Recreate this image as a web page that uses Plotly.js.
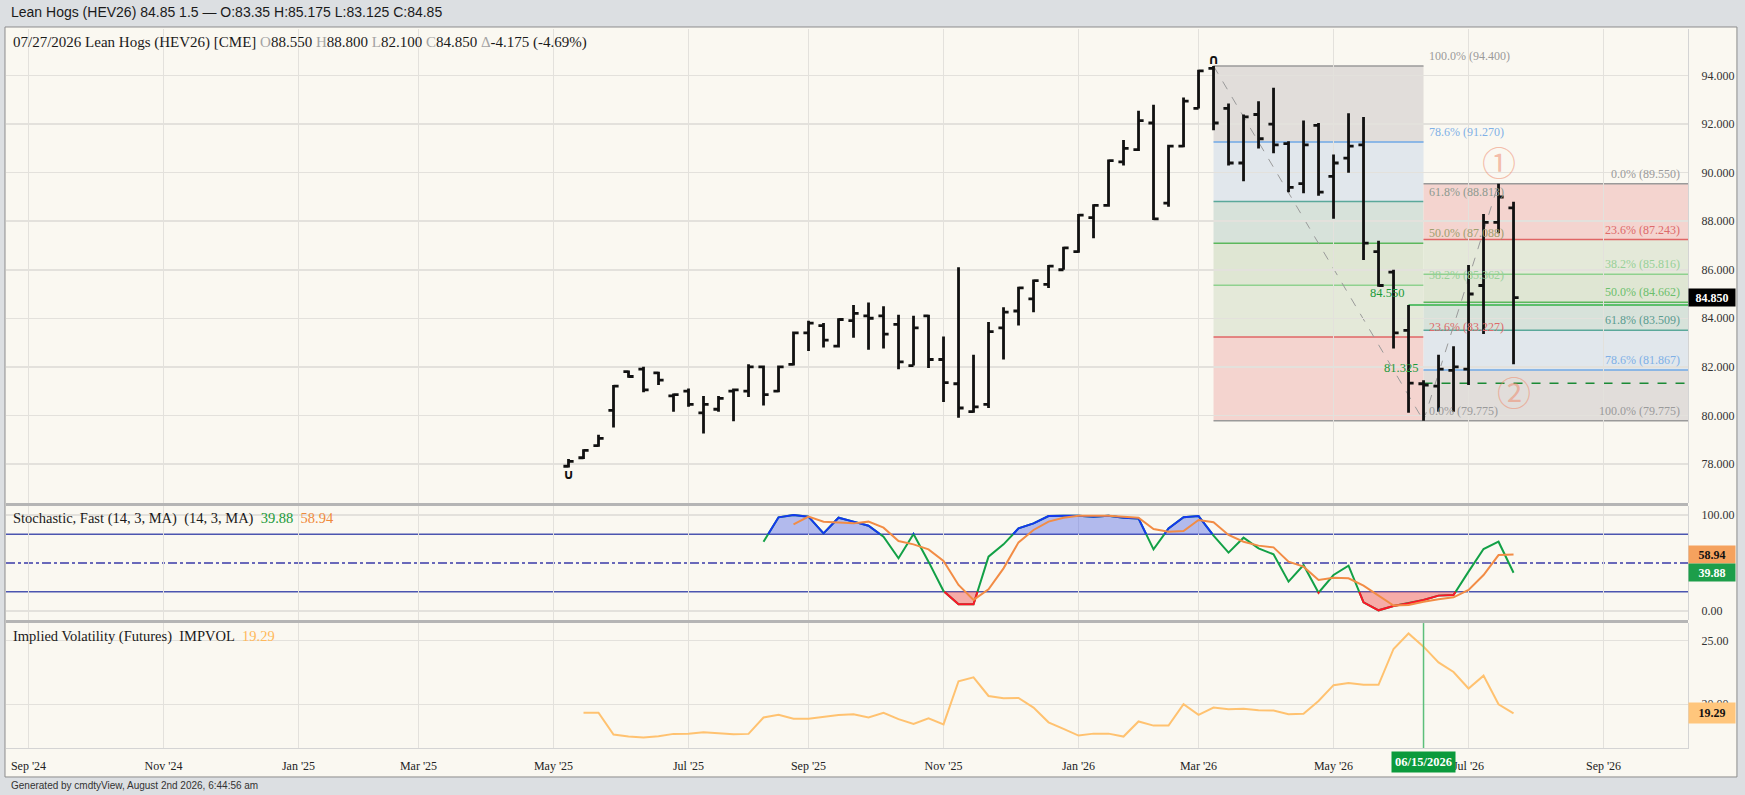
<!DOCTYPE html>
<html><head><meta charset="utf-8">
<script src="https://cdn.plot.ly/plotly-3.0.1.min.js"></script>
<style>html,body{margin:0;padding:0;background:#dcdfe2;}#chart{width:1745px;height:795px;}</style>
</head><body><div id="chart"></div>
<script>
// ---------- DATA ----------
const dates = ['2025-05-12','2025-05-19','2025-05-26','2025-06-02','2025-06-09','2025-06-16','2025-06-23','2025-06-30',
'2025-07-07','2025-07-14','2025-07-21','2025-07-28','2025-08-04','2025-08-11','2025-08-18','2025-08-25',
'2025-09-01','2025-09-08','2025-09-15','2025-09-22','2025-09-29','2025-10-06','2025-10-13','2025-10-20',
'2025-10-27','2025-11-03','2025-11-10','2025-11-17','2025-11-24','2025-12-01','2025-12-08','2025-12-15',
'2025-12-22','2025-12-29','2026-01-05','2026-01-12','2026-01-19','2026-01-26','2026-02-02','2026-02-09',
'2026-02-16','2026-02-23','2026-03-02','2026-03-09','2026-03-16','2026-03-23','2026-03-30','2026-04-06',
'2026-04-13','2026-04-20','2026-04-27','2026-05-04','2026-05-11','2026-05-18','2026-05-25','2026-06-01',
'2026-06-08','2026-06-15','2026-06-22','2026-06-29','2026-07-06','2026-07-13','2026-07-20','2026-07-27'];
const opens = [77.9,78.25,78.75,80.2,81.8,81.9,81.75,80.8,81.0,80.1,80.25,81.0,81.0,82.0,81.0,82.1,
83.4,83.7,82.85,83.9,84.1,84.1,83.75,82.05,84.1,82.3,81.3,80.15,80.45,83.6,84.3,84.8,
85.4,86.0,86.75,88.15,88.65,90.45,90.95,92.05,88.75,91.1,92.65,94.3,92.65,90.4,92.4,92.0,
91.2,89.55,91.95,89.85,90.6,91.15,86.75,85.9,83.5,81.3,81.2,81.85,81.9,85.35,87.95,88.55];
const highs = [78.2,78.6,79.2,81.25,81.85,82.0,81.8,80.9,81.1,80.8,80.8,81.1,82.1,82.05,82.05,83.45,
83.9,83.8,84.0,84.55,84.65,84.5,84.15,84.1,84.15,83.25,86.1,82.5,83.85,84.45,85.3,85.6,
86.2,86.95,88.3,88.7,90.55,91.35,92.55,92.8,91.15,93.1,94.25,94.4,92.85,92.4,92.95,93.5,
91.3,92.15,92.05,90.75,92.45,92.3,87.2,86.0,84.55,81.45,82.5,82.85,86.2,88.3,89.55,88.8];
const lows = [77.85,78.2,78.7,79.5,81.55,80.95,81.25,80.15,80.35,79.25,80.15,79.75,80.75,80.4,80.95,82.05,
82.65,82.8,82.8,83.2,82.7,82.75,81.9,82.05,81.95,80.55,79.9,80.1,80.3,82.3,83.7,84.25,
85.25,86.0,86.7,87.3,88.6,90.3,90.9,88.05,88.6,91.05,92.65,91.75,90.3,89.65,91.0,90.8,
89.2,89.15,89.05,88.1,90.0,86.4,85.3,82.75,80.1,79.775,80.15,80.15,81.25,83.35,87.5,82.1];
const closes = [78.1,78.55,79.05,81.2,81.6,81.05,81.45,80.85,80.45,80.45,80.7,81.05,82.0,80.85,82.0,83.4,
83.8,83.1,83.95,84.2,84.0,83.35,82.2,83.6,82.3,81.35,80.3,80.35,83.45,84.25,85.25,85.55,
86.15,86.9,88.25,88.65,90.5,91.0,92.15,88.1,91.1,92.95,94.2,92.05,90.4,92.3,91.4,91.15,
89.4,91.15,89.2,90.4,91.1,87.1,85.35,83.4,81.325,81.25,81.9,82.0,85.0,87.95,89.0,84.85];

// Stochastic fast %K (from week index 13) and %D (from week index 15)
const stochKStart = 13;
const stochK = [72.2,97.6,100,98.3,80.9,97.2,93.1,88.9,77.4,54.9,80.2,51.4,20.8,6.9,6.9,56.6,69.4,86.1,91.3,99.0,
99.3,99.3,98.3,99.3,97.2,96.5,64.2,86.1,97.6,99.0,78.5,60.8,76.4,65.3,59.0,30.6,47.9,19.1,37.5,47.2,
9.0,0.7,5.2,8.0,11.5,16.0,16.7,41.0,64.6,72.2,39.88];
const stochDStart = 15;
const stochD = [90.3,98.3,93.1,92.4,91.3,93.1,86.8,72.9,69.4,64.2,52.1,27.1,11.5,22.6,44.4,71.5,84.4,93.1,97.2,99.3,
99.3,99.3,98.3,97.2,85.4,82.6,83.3,94.8,92.4,79.2,72.2,68.1,66.3,51.4,46.2,32.3,34.7,34.0,26.4,16.0,
5.6,6.3,9.7,12.2,14.2,21.9,37.5,58.3,58.94];

// Implied volatility (from week index 1)
const ivStart = 1;
const ivVals = [19.33,19.33,17.62,17.46,17.38,17.49,17.67,17.69,17.80,17.75,17.64,17.67,18.96,19.17,18.86,18.86,
18.99,19.15,19.22,18.96,19.33,18.83,18.45,18.89,18.42,21.81,22.12,20.65,20.47,20.49,19.74,18.58,
18.06,17.54,17.69,17.69,17.46,18.65,18.32,18.32,20.0,19.17,19.74,19.61,19.64,19.53,19.51,19.22,
19.25,20.26,21.50,21.68,21.53,21.53,24.35,25.57,24.53,23.29,22.54,21.24,22.25,20.0,19.29];

// Fibonacci retracements
const fib1Start = 43, fib1End = 57;
const fib1Levels = [94.4,91.27,88.813,87.088,85.362,83.227,79.775];
const fib1Labels = ['100.0% (94.400)','78.6% (91.270)','61.8% (88.813)','50.0% (87.088)','38.2% (85.362)','23.6% (83.227)','0.0% (79.775)'];
const fib2Start = 57, fib2Peak = 62;
const fib2Levels = [89.55,87.243,85.816,84.662,83.509,81.867,79.775];
const fib2Labels = ['0.0% (89.550)','23.6% (87.243)','38.2% (85.816)','50.0% (84.662)','61.8% (83.509)','78.6% (81.867)','100.0% (79.775)'];
const swingHigh = 84.55, swingLow = 81.325;
const swingHighIdx = 56, swingLowIdx = 57;

// Axis ticks
const monthTicks = ['2024-09-02','2024-11-04','2025-01-06','2025-03-03','2025-05-05','2025-07-07','2025-09-01',
'2025-11-03','2026-01-05','2026-03-02','2026-05-04','2026-07-06','2026-09-07'];
const monthLabels = ["Sep '24","Nov '24","Jan '25","Mar '25","May '25","Jul '25","Sep '25","Nov '25","Jan '26","Mar '26","May '26","Jul '26","Sep '26"];
const priceTicks = [78,80,82,84,86,88,90,92,94];
const stochTicks = [0,100];
const ivTicks = [20,25];
const markedDate = '2026-06-15';

// ---------- STYLE ----------
const SERIF = "'Liberation Serif','Times New Roman',Times,serif";
const SANS = "'Liberation Sans',Arial,Helvetica,sans-serif";
const GRID = '#e3e1dc';
const xRange = ['2024-08-22 12:00','2026-10-16 10:00'];
const fib1LabelColors = ['#9a9a9a','#7fb0e6','#8c9a90','#a0a070','#98d098','#dd6a6a','#9a9a9a'];
const fib1LineColors = ['#9a9a9a','#6fa8e6','#5aa89a','#5cb85c','#8fd18f','#e06666','#9a9a9a'];
const fib1Fills = ['#e1ddda','#e1e7ec','#d7e2da','#dfe6d3','#e4e9d9','#f4d4cf'];
const fib2LabelColors = ['#9a9a9a','#dd6a6a','#98d098','#6cbf6c','#5a9c90','#7fb0e6','#9a9a9a'];
const fib2LineColors = ['#9a9a9a','#e06666','#8fd18f','#5cb85c','#5aa89a','#6fa8e6','#9a9a9a'];
const fib2Fills = ['#f4d4cf','#e4e9d9','#dfe6d3','#d7e2da','#e1e7ec','#e1ddda'];

// ---------- HELPERS ----------
function toMs(s){ return Date.parse(s + 'T00:00:00Z'); }
function fmt(ms){ const d=new Date(ms); const p=n=>String(n).padStart(2,'0');
  return d.getUTCFullYear()+'-'+p(d.getUTCMonth()+1)+'-'+p(d.getUTCDate())+' '+p(d.getUTCHours())+':'+p(d.getUTCMinutes())+':'+p(d.getUTCSeconds()); }
function clipSeries(xs, ys, T, above){
  const inside = v => above ? v > T : v < T;
  const lx=[], ly=[], fx=[], fy=[];
  for(let i=0;i<xs.length;i++){
    const t=toMs(xs[i]), v=ys[i];
    if(i>0){
      const t0=toMs(xs[i-1]), v0=ys[i-1];
      if(inside(v0)!==inside(v)){
        const tc = t0 + (t-t0)*(T-v0)/(v-v0);
        lx.push(fmt(tc)); ly.push(T); fx.push(fmt(tc)); fy.push(T);
        if(!inside(v)){ lx.push(null); ly.push(null); }
      }
    }
    if(inside(v)){ lx.push(fmt(t)); ly.push(v); fx.push(fmt(t)); fy.push(v); }
    else { fx.push(fmt(t)); fy.push(T); }
  }
  return {lx,ly,fx,fy};
}

const kDates = dates.slice(stochKStart, stochKStart + stochK.length);
const dDates = dates.slice(stochDStart, stochDStart + stochD.length);
const ivDates = dates.slice(ivStart, ivStart + ivVals.length);
const up = clipSeries(kDates, stochK, 80, true);
const dn = clipSeries(kDates, stochK, 20, false);

// ---------- TRACES ----------
const traces = [
  {type:'ohlc', x:dates, open:opens, high:highs, low:lows, close:closes, xaxis:'x', yaxis:'y',
   increasing:{line:{color:'#111', width:2.8}}, decreasing:{line:{color:'#111', width:2.8}},
   tickwidth:0.34, hoverinfo:'skip'},
  {type:'scatter', mode:'lines', x:up.fx, y:up.fx.map(()=>80), xaxis:'x2', yaxis:'y2', line:{width:0}, hoverinfo:'skip'},
  {type:'scatter', mode:'lines', x:up.fx, y:up.fy, xaxis:'x2', yaxis:'y2', line:{width:0}, fill:'tonexty', fillcolor:'rgba(70,92,232,0.40)', hoverinfo:'skip'},
  {type:'scatter', mode:'lines', x:dn.fx, y:dn.fx.map(()=>20), xaxis:'x2', yaxis:'y2', line:{width:0}, hoverinfo:'skip'},
  {type:'scatter', mode:'lines', x:dn.fx, y:dn.fy, xaxis:'x2', yaxis:'y2', line:{width:0}, fill:'tonexty', fillcolor:'rgba(242,80,80,0.45)', hoverinfo:'skip'},
  {type:'scatter', mode:'lines', x:kDates, y:stochK, xaxis:'x2', yaxis:'y2', line:{color:'#12a046', width:2}, hoverinfo:'skip'},
  {type:'scatter', mode:'lines', x:up.lx, y:up.ly, xaxis:'x2', yaxis:'y2', line:{color:'#1437f0', width:2}, connectgaps:false, hoverinfo:'skip'},
  {type:'scatter', mode:'lines', x:dn.lx, y:dn.ly, xaxis:'x2', yaxis:'y2', line:{color:'#ff1428', width:2}, connectgaps:false, hoverinfo:'skip'},
  {type:'scatter', mode:'lines', x:dDates, y:stochD, xaxis:'x2', yaxis:'y2', line:{color:'#f28c45', width:2}, hoverinfo:'skip'},
  {type:'scatter', mode:'lines', x:ivDates, y:ivVals, xaxis:'x3', yaxis:'y3', line:{color:'#ffc270', width:2}, hoverinfo:'skip'}
];

// ---------- SHAPES ----------
const shapes = [];
shapes.push({type:'rect', xref:'paper', yref:'paper', x0:-0.0006, x1:1.0291, y0:-0.0403, y1:1.0028,
  fillcolor:'#faf8f1', line:{color:'#8c8c8c', width:1}, layer:'below'});
for(let i=0;i<fib1Fills.length;i++){
  shapes.push({type:'rect', xref:'x', yref:'y', x0:dates[fib1Start], x1:dates[fib1End], y0:fib1Levels[i+1], y1:fib1Levels[i],
    fillcolor:fib1Fills[i], line:{width:0}, layer:'below'});
}
for(let i=0;i<fib1Levels.length;i++){
  shapes.push({type:'line', xref:'x', yref:'y', x0:dates[fib1Start], x1:dates[fib1End], y0:fib1Levels[i], y1:fib1Levels[i],
    line:{color:fib1LineColors[i], width:1.5}, layer:'below'});
}
for(let i=0;i<fib2Fills.length;i++){
  shapes.push({type:'rect', xref:'x', yref:'y', x0:dates[fib2Start], x1:xRange[1], y0:fib2Levels[i+1], y1:fib2Levels[i],
    fillcolor:fib2Fills[i], line:{width:0}, layer:'below'});
}
for(let i=0;i<fib2Levels.length;i++){
  shapes.push({type:'line', xref:'x', yref:'y', x0:dates[fib2Start], x1:xRange[1], y0:fib2Levels[i], y1:fib2Levels[i],
    line:{color:fib2LineColors[i], width:1.5}, layer:'below'});
}
shapes.push({type:'line', xref:'x', yref:'y', x0:dates[swingHighIdx], x1:xRange[1], y0:swingHigh, y1:swingHigh, line:{color:'#5cbf6c', width:2}, layer:'below'});
shapes.push({type:'line', xref:'x', yref:'y', x0:dates[swingLowIdx], x1:xRange[1], y0:swingLow, y1:swingLow, line:{color:'#1a8a35', width:1.5, dash:'dash'}, layer:'below'});
shapes.push({type:'line', xref:'x', yref:'y', x0:dates[fib1Start], x1:dates[fib1End], y0:fib1Levels[0], y1:fib1Levels[6], line:{color:'#9a9a9a', width:1, dash:'dash'}, layer:'below'});
shapes.push({type:'line', xref:'x', yref:'y', x0:dates[fib2Start], x1:dates[fib2Peak], y0:fib2Levels[6], y1:fib2Levels[0], line:{color:'#9a9a9a', width:1, dash:'dash'}, layer:'below'});
shapes.push({type:'line', xref:'x2 domain', yref:'y2', x0:0, x1:1, y0:80, y1:80, line:{color:'#4b55b0', width:1.5}, layer:'below'});
shapes.push({type:'line', xref:'x2 domain', yref:'y2', x0:0, x1:1, y0:20, y1:20, line:{color:'#4b55b0', width:1.5}, layer:'below'});
shapes.push({type:'line', xref:'x2 domain', yref:'y2', x0:0, x1:1, y0:50, y1:50, line:{color:'#3a3aa8', width:1.3, dash:'dashdot'}, layer:'below'});
shapes.push({type:'line', xref:'paper', yref:'paper', x0:0, x1:1, y0:0.3387, y1:0.3387, line:{color:'#b5b5b5', width:3}, layer:'above'});
shapes.push({type:'line', xref:'paper', yref:'paper', x0:0, x1:1, y0:0.1759, y1:0.1759, line:{color:'#b5b5b5', width:3}, layer:'above'});
shapes.push({type:'line', xref:'x3', yref:'paper', x0:markedDate, x1:markedDate, y0:0, y1:0.1738, line:{color:'#5cbf7a', width:1.5}, layer:'above'});

// ---------- ANNOTATIONS ----------
const ann = [];
const G = '<span style="color:#a3a3a3">';
ann.push({xref:'paper', yref:'paper', x:0.0018, y:1.0236, xanchor:'left', yanchor:'middle', showarrow:false,
  text:'Lean Hogs (HEV26) 84.85 1.5 \u2014 O:83.35 H:85.175 L:83.125 C:84.85', font:{family:SANS, size:14, color:'#1a1a1a'}});
ann.push({xref:'paper', yref:'paper', x:0.003, y:0.9819, xanchor:'left', yanchor:'middle', showarrow:false,
  text:'07/27/2026 Lean Hogs (HEV26) [CME] '+G+'O</span>88.550 '+G+'H</span>88.800 '+G+'L</span>82.100 '+G+'C</span>84.850 '+G+'\u0394</span>-4.175 (-4.69%)',
  font:{family:SERIF, size:15, color:'#1a1a1a'}});
ann.push({xref:'paper', yref:'paper', x:0.003, y:0.3185, xanchor:'left', yanchor:'middle', showarrow:false,
  text:'Stochastic, Fast (14, 3, MA)\u00a0\u00a0(14, 3, MA)\u00a0\u00a0<span style="color:#1a9a3a">39.88</span>\u00a0\u00a0<span style="color:#f08a3c">58.94</span>',
  font:{family:SERIF, size:14.5, color:'#1a1a1a'}});
ann.push({xref:'paper', yref:'paper', x:0.003, y:0.1544, xanchor:'left', yanchor:'middle', showarrow:false,
  text:'Implied Volatility (Futures)\u00a0\u00a0IMPVOL\u00a0\u00a0<span style="color:#ffb85a">19.29</span>',
  font:{family:SERIF, size:14.5, color:'#1a1a1a'}});
ann.push({xref:'paper', yref:'paper', x:0.0018, y:-0.0515, xanchor:'left', yanchor:'middle', showarrow:false,
  text:'Generated by cmdtyView, August 2nd 2026, 6:44:56 am', font:{family:SANS, size:10, color:'#333'}});
for(let i=0;i<fib1Labels.length;i++){
  ann.push({xref:'x', yref:'y', x:dates[fib1End], y:fib1Levels[i], xanchor:'left', yanchor:'bottom', xshift:3, yshift:1, showarrow:false,
    text:fib1Labels[i], font:{family:SERIF, size:12, color:fib1LabelColors[i]}});
}
for(let i=0;i<fib2Labels.length;i++){
  ann.push({xref:'paper', yref:'y', x:1, y:fib2Levels[i], xanchor:'right', yanchor:'bottom', xshift:-6, yshift:1, showarrow:false,
    text:fib2Labels[i], font:{family:SERIF, size:12, color:fib2LabelColors[i]}});
}
ann.push({xref:'x', yref:'y', x:dates[swingHighIdx], y:swingHigh, xanchor:'right', yanchor:'bottom', xshift:-3, yshift:3, showarrow:false,
  text:'84.550', font:{family:SERIF, size:12.5, color:'#1a9a3a'}});
ann.push({xref:'x', yref:'y', x:dates[swingLowIdx], y:swingLow, xanchor:'right', yanchor:'bottom', xshift:-4, yshift:6, showarrow:false,
  text:'81.325', font:{family:SERIF, size:12.5, color:'#1a9a3a'}});
ann.push({xref:'x', yref:'y', x:dates[fib2Peak], y:90.45, showarrow:false, text:'\u2460', font:{family:"'Noto Sans CJK JP','DejaVu Sans'", size:34, color:'rgba(238,140,110,0.55)'}});
ann.push({xref:'x', yref:'y', x:dates[dates.length-1], y:80.97, showarrow:false, text:'\u2461', font:{family:"'Noto Sans CJK JP','DejaVu Sans'", size:34, color:'rgba(238,140,110,0.55)'}});
ann.push({xref:'x', yref:'y', x:dates[fib1Start], y:highs[fib1Start], yanchor:'bottom', yshift:-3, showarrow:false, text:'<b>\u2229</b>', font:{family:"'DejaVu Sans'", size:14, color:'#111'}});
ann.push({xref:'x', yref:'y', x:dates[0], y:lows[0], yanchor:'top', yshift:3, showarrow:false, text:'<b>\u222a</b>', font:{family:"'DejaVu Sans'", size:14, color:'#111'}});
ann.push({xref:'paper', yref:'y', x:1, y:closes[closes.length-1], xanchor:'left', yanchor:'middle', showarrow:false,
  text:'<b>84.850</b>', bgcolor:'#000', width:44, height:15, borderpad:1, font:{family:SERIF, size:12, color:'#fff'}});
ann.push({xref:'paper', yref:'y2', x:1, y:stochD[stochD.length-1], xanchor:'left', yanchor:'middle', showarrow:false,
  text:'<b>58.94</b>', bgcolor:'#f5a25e', width:44, height:15, borderpad:1, font:{family:SERIF, size:12, color:'#111'}});
ann.push({xref:'paper', yref:'y2', x:1, y:stochK[stochK.length-1], xanchor:'left', yanchor:'middle', showarrow:false,
  text:'<b>39.88</b>', bgcolor:'#1c9e4a', width:44, height:15, borderpad:1, font:{family:SERIF, size:12, color:'#fff'}});
ann.push({xref:'paper', yref:'y3', x:1, y:ivVals[ivVals.length-1], xanchor:'left', yanchor:'middle', showarrow:false,
  text:'<b>19.29</b>', bgcolor:'#ffc67c', width:44, height:18, borderpad:1, font:{family:SERIF, size:12, color:'#111'}});
ann.push({xref:'x3', yref:'paper', x:markedDate, y:-0.0012, xanchor:'center', yanchor:'top', yshift:-2, showarrow:false,
  text:'<b>06/15/2026</b>', bgcolor:'#0b9a3c', borderpad:3, font:{family:SERIF, size:12.5, color:'#fff'}});

// ---------- LAYOUT ----------
const xBase = {type:'date', range:xRange, tickvals:monthTicks, ticktext:monthLabels, showgrid:true, gridcolor:GRID, gridwidth:1.5,
  zeroline:false, fixedrange:true, ticks:''};
const yBase = {side:'right', showgrid:true, gridcolor:GRID, gridwidth:1.5, zeroline:false, showline:true, linecolor:'#d4d4d4', linewidth:1,
  ticks:'', ticklabelstandoff:10, tickfont:{family:SERIF, size:12, color:'#333'}, fixedrange:true};
const layout = {
  width:1745, height:795, margin:{l:6, r:57, t:29, b:47},
  paper_bgcolor:'#dcdfe2', plot_bgcolor:'rgba(0,0,0,0)', showlegend:false,
  font:{family:SERIF, size:12, color:'#222'},
  xaxis: Object.assign({}, xBase, {anchor:'y', showticklabels:false, rangeslider:{visible:false}}),
  xaxis2: Object.assign({}, xBase, {anchor:'y2', matches:'x', showticklabels:false}),
  xaxis3: Object.assign({}, xBase, {anchor:'y3', matches:'x', showticklabels:true, ticklabelstandoff:7,
    tickfont:{family:SERIF, size:12, color:'#222'}, showline:true, linecolor:'#d4d4d4'}),
  yaxis: Object.assign({}, yBase, {anchor:'x', domain:[0.3408,1], range:[76.386,95.925], tickvals:priceTicks, ticktext:priceTicks.map(v=>v.toFixed(3))}),
  yaxis2: Object.assign({}, yBase, {anchor:'x2', domain:[0.17803,0.33658], range:[-9.4,109.4], tickvals:stochTicks, ticktext:stochTicks.map(v=>v.toFixed(2))}),
  yaxis3: Object.assign({}, yBase, {anchor:'x3', domain:[0,0.17385], range:[16.56,26.39], tickvals:ivTicks, ticktext:ivTicks.map(v=>v.toFixed(2))}),
  shapes:shapes, annotations:ann, hovermode:false
};
Plotly.newPlot('chart', traces, layout, {displayModeBar:false, staticPlot:true});
</script></body></html>
